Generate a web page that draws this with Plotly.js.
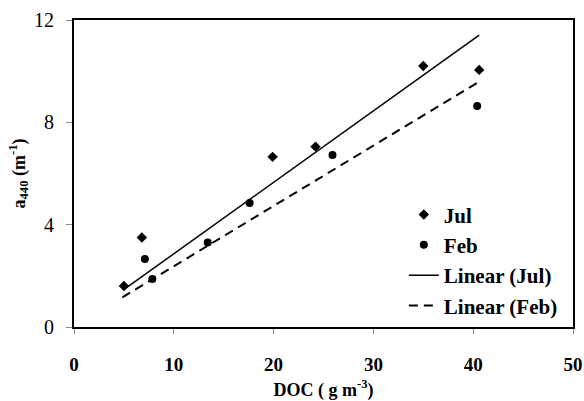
<!DOCTYPE html>
<html>
<head>
<meta charset="utf-8">
<script src="https://cdn.plot.ly/plotly-3.0.1.min.js"></script>
<style>html,body{margin:0;padding:0;background:#fff;}#chart{width:584px;height:401px;}</style>
</head>
<body>
<div id="chart"></div>
<script>
// Data
const julX = [5.0, 6.8, 19.9, 24.2, 35.0, 40.6];
const julY = [1.6, 3.5, 6.65, 7.05, 10.2, 10.05];
const febX = [7.1, 7.85, 13.4, 17.6, 25.9, 40.4];
const febY = [2.66, 1.88, 3.3, 4.85, 6.72, 8.64];
const julFitX = [4.95, 40.6];
const julFitY = [1.45, 11.41];
const febFitX = [4.85, 40.6];
const febFitY = [1.16, 9.59];
const xTicks = [0, 10, 20, 30, 40, 50];
const yTicks = [0, 4, 8, 12];

const font = 'Liberation Serif, Times New Roman, serif';

const traces = [
  {x: julX, y: julY, mode: 'markers', type: 'scatter', name: '<b>Jul</b>', legendgroup: 'a',
   marker: {symbol: 'diamond', size: 8, color: '#000'}},
  {x: febX, y: febY, mode: 'markers', type: 'scatter', name: '<b>Feb</b>', legendgroup: 'b',
   marker: {symbol: 'circle', size: 8, color: '#000'}},
  {x: julFitX, y: julFitY, mode: 'lines', type: 'scatter', name: '<b>Linear (Jul)</b>', legendgroup: 'c',
   line: {color: '#000', width: 1.5}},
  {x: febFitX, y: febFitY, mode: 'lines', type: 'scatter', name: '<b>Linear (Feb)</b>', legendgroup: 'd',
   line: {color: '#000', width: 2, dash: '9px,6px'}}
];

const layout = {
  width: 584, height: 401,
  margin: {l: 74, r: 11, t: 20, b: 74},
  paper_bgcolor: '#fff', plot_bgcolor: '#fff',
  font: {family: font, color: '#000'},
  showlegend: true,
  legend: {x: 0.661, y: 0.432, xanchor: 'left', yanchor: 'top', bgcolor: 'rgba(0,0,0,0)',
           font: {size: 21, family: font}, tracegroupgap: 0, itemwidth: 30},
  xaxis: {
    range: [0, 50], tickvals: xTicks, ticktext: xTicks.map(v => '<b>' + v + '</b>'),
    showgrid: false, zeroline: false, showline: true, linewidth: 2, linecolor: '#000', mirror: true,
    ticks: 'outside', ticklen: 5, tickwidth: 1, tickcolor: '#888', ticklabelstandoff: 14,
    tickfont: {size: 19, family: font},
    title: {text: '<b>DOC ( g m<sup>-3</sup>)</b>', font: {size: 18, family: font}, standoff: 10}
  },
  yaxis: {
    range: [0, 12], tickvals: yTicks,
    showgrid: false, zeroline: false, showline: true, linewidth: 2, linecolor: '#000', mirror: true,
    ticks: 'outside', ticklen: 6, tickwidth: 1, tickcolor: '#888', ticklabelstandoff: 8,
    tickfont: {size: 20, family: font},
    title: {text: '<b>a<sub>440</sub> (m<sup>-1</sup>)</b>', font: {size: 18, family: font}, standoff: 4}
  }
};

Plotly.newPlot('chart', traces, layout, {displayModeBar: false, staticPlot: true});
</script>
</body>
</html>
